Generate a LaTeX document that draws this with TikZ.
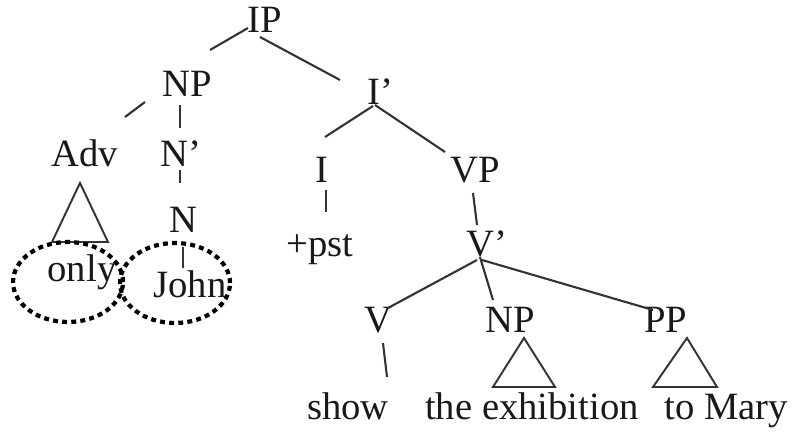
\documentclass[tikz,border=0pt]{standalone}
\usepackage{fontspec}
\setmainfont{Liberation Serif}
\usepackage{tikz}

\tikzset{
  lab/.style={anchor=base, inner sep=0pt, text=black!90,
    font=\fontsize{22}{26}\selectfont},
  branch/.style={line width=1.2pt, draw=black!80},
  roof/.style={line width=1.1pt, draw=black!80},
  focus/.style={line width=2.4pt, dash pattern=on 2.8pt off 2.4pt}
}

\begin{document}
\begin{tikzpicture}[x=0.02cm,y=-0.02cm]
  \useasboundingbox (0,0) rectangle (796,442);

  % categories
  \node[lab] (ip)   at (265,33)  {IP};
  \node[lab] (np)   at (187,97)  {NP};
  \node[lab] (ibar) at (380,105) {I'};
  \node[lab] (adv)  at (85,167)  {Adv};
  \node[lab] (nbar) at (181,167) {N'};
  \node[lab] (n)    at (183,233) {N};
  \node[lab] (i)    at (322,183) {I};
  \node[lab] (vp)   at (475,183) {VP};
  \node[lab] (vbar) at (487,257) {V'};
  \node[lab] (v)    at (378,333) {V};
  \node[lab] (npo)  at (510,333) {NP};
  \node[lab] (pp)   at (666,333) {PP};

  % words
  \node[lab] (only) at (82,282)  {only};
  \node[lab] (john) at (190,298) {John};
  \node[lab] (pst)  at (320,257) {+pst};
  \node[lab] (show) at (348,420) {show};
  \node[lab] (exh)  at (532,420) {the exhibition};
  \node[lab] (mary) at (726,420) {to Mary};

  % branches
  \draw[branch] ([shift={(-17,-5)}]ip.base) -- ([shift={(23,-47)}]np.base);
  \draw[branch] ([shift={(-5,4)}]ip.base) -- ([shift={(-40,-25)}]ibar.base);
  \draw[branch] ([shift={(-42,5)}]np.base) -- ([shift={(40,-50)}]adv.base);
  \draw[branch] ([shift={(-7,8)}]np.base) -- ([shift={(-1,-39)}]nbar.base);
  \draw[branch] ([shift={(-1,3)}]nbar.base) -- ([shift={(-3,-50)}]n.base);
  \draw[branch] ([shift={(0,14)}]n.base) -- ([shift={(-7,-30)}]john.base);
  \draw[branch] ([shift={(-7,1)}]ibar.base) -- ([shift={(3,-46)}]i.base);
  \draw[branch] ([shift={(-5,0)}]ibar.base) -- ([shift={(-30,-31)}]vp.base);
  \draw[branch] ([shift={(4,7)}]i.base) -- ([shift={(6,-45)}]pst.base);
  \draw[branch] ([shift={(-2,10)}]vp.base) -- ([shift={(-10,-32)}]vbar.base);
  \draw[branch] ([shift={(-10,3)}]vbar.base) -- ([shift={(10,-25)}]v.base);
  \draw[branch] ([shift={(-7,0)}]vbar.base) -- ([shift={(-17,-33)}]npo.base);
  \draw[branch] ([shift={(-5,3)}]vbar.base) -- ([shift={(-13,-23)}]pp.base);
  \draw[branch] ([shift={(5,10)}]v.base) -- ([shift={(39,-43)}]show.base);

  % triangles
  \draw[roof] ([shift={(-5,16)}]adv.base) -- ([shift={(-33,75)}]adv.base)
    -- ([shift={(23,75)}]adv.base) -- cycle;
  \draw[roof] ([shift={(14,5)}]npo.base) -- ([shift={(-17,54)}]npo.base)
    -- ([shift={(45,54)}]npo.base) -- cycle;
  \draw[roof] ([shift={(21,5)}]pp.base) -- ([shift={(-13,54)}]pp.base)
    -- ([shift={(51,54)}]pp.base) -- cycle;

  % dotted rings
  \draw[focus] ([shift={(-14,0)}]only.base) ellipse [x radius=1.1cm, y radius=0.8cm];
  \draw[focus] ([shift={(-15,-15)}]john.base) ellipse [x radius=1.1cm, y radius=0.8cm];
\end{tikzpicture}
\end{document}
